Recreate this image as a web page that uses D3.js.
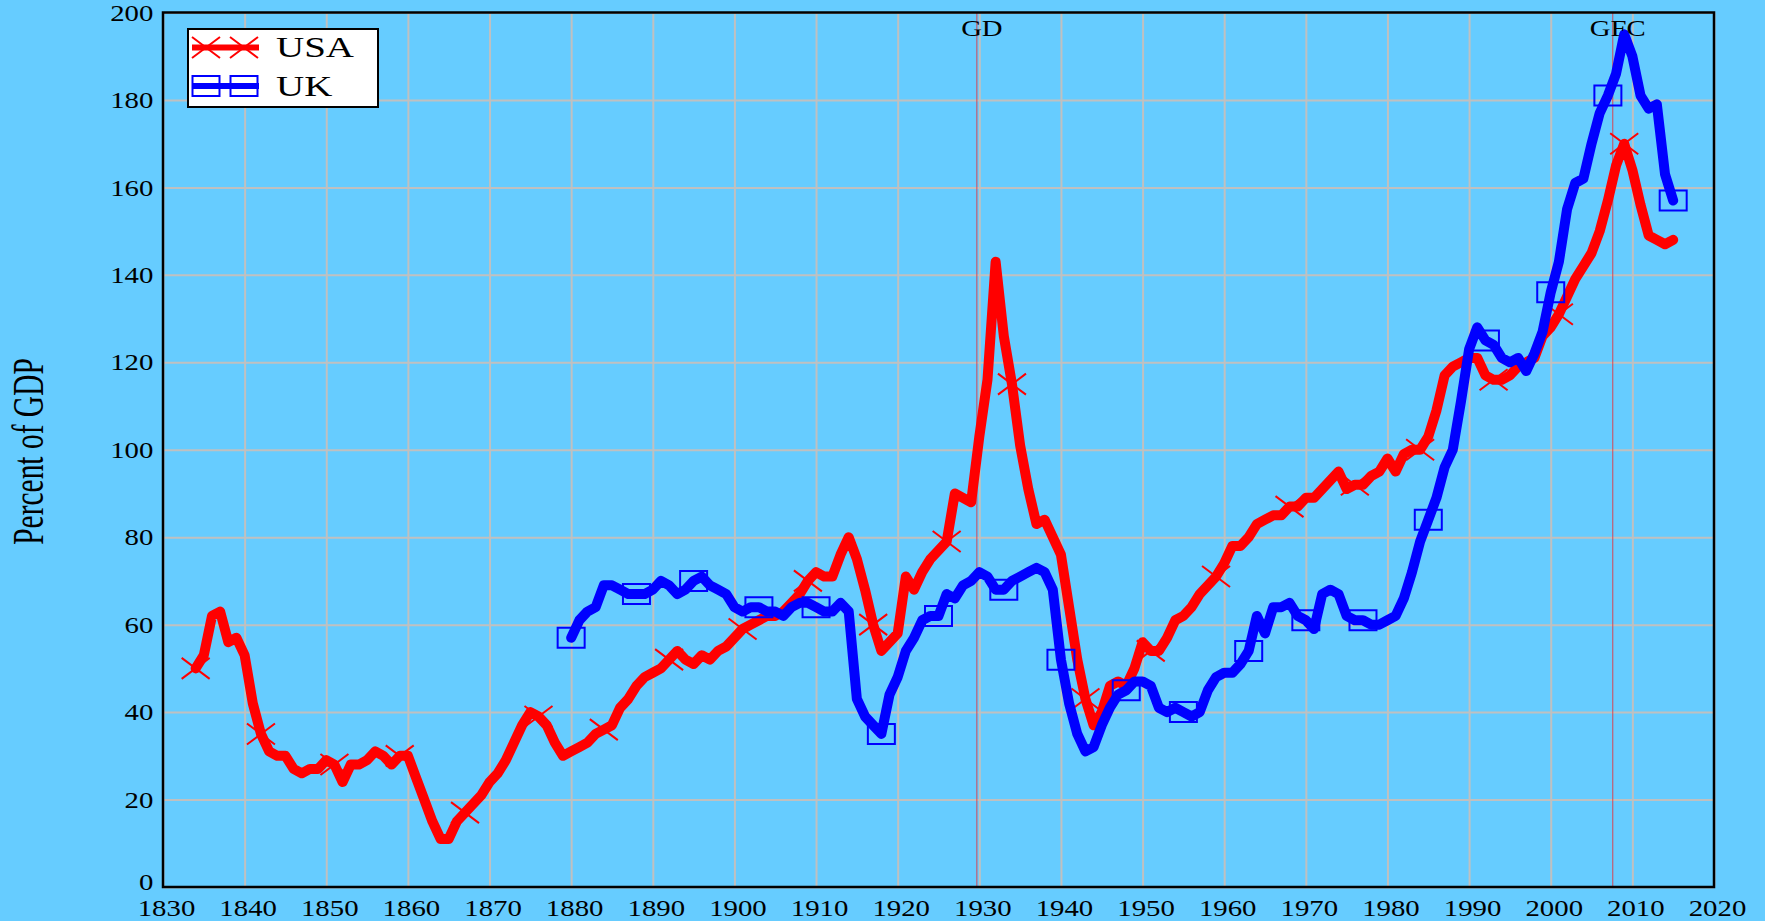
<!DOCTYPE html>
<html>
<head>
<meta charset="utf-8">
<script src="https://cdn.jsdelivr.net/npm/d3@7"></script>
<style>
  html, body { margin: 0; padding: 0; background: #66ccff; overflow: hidden; }
  svg { display: block; }
  text { font-family: "Liberation Serif", "Times New Roman", serif; fill: #000; }
</style>
</head>
<body>
<svg id="chart"></svg>
<script>
// debt as percent of GDP (annual)
const usaStart = 1834
const usaDebt = [
    50, 53, 62, 63, 56, 57, 53, 42, 35, 31,
    30, 30, 27, 26, 27, 27, 29, 28, 24, 28,
    28, 29, 31, 30, 28, 30, 30, 25, 20, 15,
    11, 11, 15, 17, 19, 21, 24, 26, 29, 33,
    37, 40, 39, 37, 33, 30, 31, 32, 33, 35,
    36, 37, 41, 43, 46, 48, 49, 50, 52, 54,
    52, 51, 53, 52, 54, 55, 57, 59, 60, 61,
    62, 62, 63, 65, 67, 70, 72, 71, 71, 76,
    80, 75, 68, 60, 54, 56, 58, 71, 68, 72,
    75, 77, 79, 90, 89, 88, 103, 116, 143, 126,
    115, 101, 91, 83, 84, 80, 76, 64, 52, 43,
    37, 40, 46, 47, 46, 50, 56, 54, 54, 57,
    61, 62, 64, 67, 69, 71, 74, 78, 78, 80,
    83, 84, 85, 85, 87, 87, 89, 89, 91, 93,
    95, 91, 92, 92, 94, 95, 98, 95, 99, 100,
    100, 103, 109, 117, 119, 120, 121, 121, 117, 116,
    116, 117, 119, 120, 121, 126, 128, 131, 135, 139,
    142, 145, 150, 157, 165, 170, 164, 156, 149, 148,
    147, 148,
]

const ukStart = 1880
const ukDebt = [
    57, 61, 63, 64, 69, 69, 68, 67, 67, 67,
    68, 70, 69, 67, 68, 70, 71, 69, 68, 67,
    64, 63, 64, 64, 63, 63, 62, 64, 65, 65,
    64, 63, 63, 65, 63, 43, 39, 37, 35, 44,
    48, 54, 57, 61, 62, 62, 67, 66, 69, 70,
    72, 71, 68, 68, 70, 71, 72, 73, 72, 68,
    52, 42, 35, 31, 32, 37, 41, 44, 45, 47,
    47, 46, 41, 40, 41, 40, 39, 40, 45, 48,
    49, 49, 51, 54, 62, 58, 64, 64, 65, 62,
    61, 59, 67, 68, 67, 62, 61, 61, 60, 60,
    61, 62, 66, 72, 79, 84, 89, 96, 100, 111,
    123, 128, 125, 124, 121, 120, 121, 118, 122, 127,
    136, 143, 155, 161, 162, 170, 177, 181, 186, 195,
    190, 181, 178, 179, 163, 157,
]

// years that carry a marker on each line
const usaMarkerYears = [1834, 1842, 1851, 1859, 1867, 1876, 1884, 1892, 1901, 1909, 1917,
    1926, 1934, 1943, 1951, 1959, 1968, 1976, 1984, 1993, 2001, 2009]
const ukMarkerYears = [1880, 1888, 1895, 1903, 1910, 1918, 1925, 1933, 1940, 1948, 1955,
    1963, 1970, 1977, 1985, 1992, 2000, 2007, 2015]

const xTicks = d3.range(1830, 2021, 10)
const yTicks = d3.range(0, 201, 20)

const eventYears = [1929.7, 2007.6]
const eventLabels = ['GD', 'GFC']

const config = {
    width: 1765,
    height: 921,
    left: 163,
    right: 1714,
    top: 12.5,
    bottom: 887,
    bg: '#66ccff',
    grid: '#c0c0c0',
    usaColor: '#ff0000',
    ukColor: '#0000ff',
    eventColor: '#e8303a',
}

const toPoints = (start, values) => values.map((v, i) => ({ year: start + i, value: v }))
const usaPoints = toPoints(usaStart, usaDebt)
const ukPoints = toPoints(ukStart, ukDebt)

const svg = d3.select('#chart')
    .attr('width', config.width)
    .attr('height', config.height)

svg.append('rect')
    .attr('width', config.width)
    .attr('height', config.height)
    .attr('fill', config.bg)

const x = d3.scaleLinear().domain([1830, 2020]).range([config.left, config.right])
const y = d3.scaleLinear().domain([0, 200]).range([config.bottom, config.top])

// grid
const xGrid = svg.append('g')
    .attr('transform', `translate(0,${config.bottom})`)
    .call(d3.axisBottom(x).tickValues(xTicks).tickSize(-(config.bottom - config.top)).tickFormat(''))
xGrid.select('.domain').remove()
xGrid.selectAll('line').attr('stroke', config.grid).attr('stroke-width', 2)

const yGrid = svg.append('g')
    .attr('transform', `translate(${config.left},0)`)
    .call(d3.axisLeft(y).tickValues(yTicks).tickSize(-(config.right - config.left)).tickFormat(''))
yGrid.select('.domain').remove()
yGrid.selectAll('line').attr('stroke', config.grid).attr('stroke-width', 2)

// event markers (GD, GFC)
svg.append('g')
    .selectAll('line')
    .data(eventYears)
    .join('line')
    .attr('x1', d => x(d)).attr('x2', d => x(d))
    .attr('y1', config.top).attr('y2', config.bottom)
    .attr('stroke', config.eventColor)
    .attr('stroke-width', 1)
    .attr('opacity', 0.85)

const line = d3.line()
    .x(d => x(d.year))
    .y(d => y(d.value))

function drawSeries(points, markerYears, color, markerShape) {
    svg.append('path')
        .datum(points)
        .attr('d', line)
        .attr('fill', 'none')
        .attr('stroke', color)
        .attr('stroke-width', 10)
        .attr('stroke-linejoin', 'round')
        .attr('stroke-linecap', 'round')

    const byYear = new Map(points.map(p => [p.year, p.value]))
    svg.append('g')
        .selectAll('path')
        .data(markerYears)
        .join('path')
        .attr('transform', d => `translate(${x(d)},${y(byYear.get(d))})`)
        .attr('d', markerShape)
        .attr('fill', 'none')
        .attr('stroke', color)
        .attr('stroke-width', 2)
}

const crossShape = 'M-14,-10.5L14,10.5M-14,10.5L14,-10.5'
const squareShape = 'M-13.5,-10H13.5V10H-13.5Z'

drawSeries(usaPoints, usaMarkerYears, config.usaColor, crossShape)
drawSeries(ukPoints, ukMarkerYears, config.ukColor, squareShape)

// frame
svg.append('rect')
    .attr('x', config.left).attr('y', config.top)
    .attr('width', config.right - config.left)
    .attr('height', config.bottom - config.top)
    .attr('fill', 'none')
    .attr('stroke', '#000')
    .attr('stroke-width', 2.5)

// axes labels
const xAxis = svg.append('g')
    .attr('transform', `translate(0,${config.bottom})`)
    .call(d3.axisBottom(x).tickValues(xTicks).tickSize(0).tickPadding(12).tickFormat(d3.format('d')))
xAxis.select('.domain').remove()
xAxis.attr('font-family', null).attr('font-size', 24)
xAxis.selectAll('text').attr('fill', '#000').attr('transform', 'translate(3,0) scale(1.2,1)')

const yAxis = svg.append('g')
    .attr('transform', `translate(${config.left},0)`)
    .call(d3.axisLeft(y).tickValues(yTicks).tickSize(0).tickPadding(8))
yAxis.select('.domain').remove()
yAxis.attr('font-family', null).attr('font-size', 24)
yAxis.selectAll('text').attr('fill', '#000').attr('transform', 'scale(1.2,1)')
// the bottom label sits just above the year labels, as in the source
yAxis.selectAll('text').filter(d => d === 0).attr('dy', '0.1em')

svg.append('text')
    .attr('transform', 'translate(43,451.5) rotate(-90) scale(0.67,1)')
    .attr('text-anchor', 'middle')
    .attr('font-size', 44)
    .text('Percent of GDP')

svg.append('g')
    .selectAll('text')
    .data(eventYears)
    .join('text')
    .attr('transform', d => `translate(${x(d) + 5},36) scale(1.25,1)`)
    .attr('text-anchor', 'middle')
    .attr('font-size', 23)
    .text((d, i) => eventLabels[i])

// legend
const legend = svg.append('g').attr('transform', 'translate(188,29)')
legend.append('rect')
    .attr('width', 190).attr('height', 78)
    .attr('fill', '#fff')
    .attr('stroke', '#000')
    .attr('stroke-width', 2)

const legendItems = [
    { name: 'USA', color: config.usaColor, shape: crossShape, y: 18.5 },
    { name: 'UK', color: config.ukColor, shape: squareShape, y: 57 },
]
legendItems.forEach(item => {
    legend.append('line')
        .attr('x1', 4).attr('x2', 71)
        .attr('y1', item.y).attr('y2', item.y)
        .attr('stroke', item.color)
        .attr('stroke-width', 6)
    ;[18, 56].forEach(cx => {
        legend.append('path')
            .attr('transform', `translate(${cx},${item.y})`)
            .attr('d', item.shape)
            .attr('fill', 'none')
            .attr('stroke', item.color)
            .attr('stroke-width', 2)
    })
    legend.append('text')
        .attr('transform', `translate(88,${item.y + 9.5}) scale(1.3,1)`)
        .attr('font-size', 30)
        .text(item.name)
})
</script>
</body>
</html>
